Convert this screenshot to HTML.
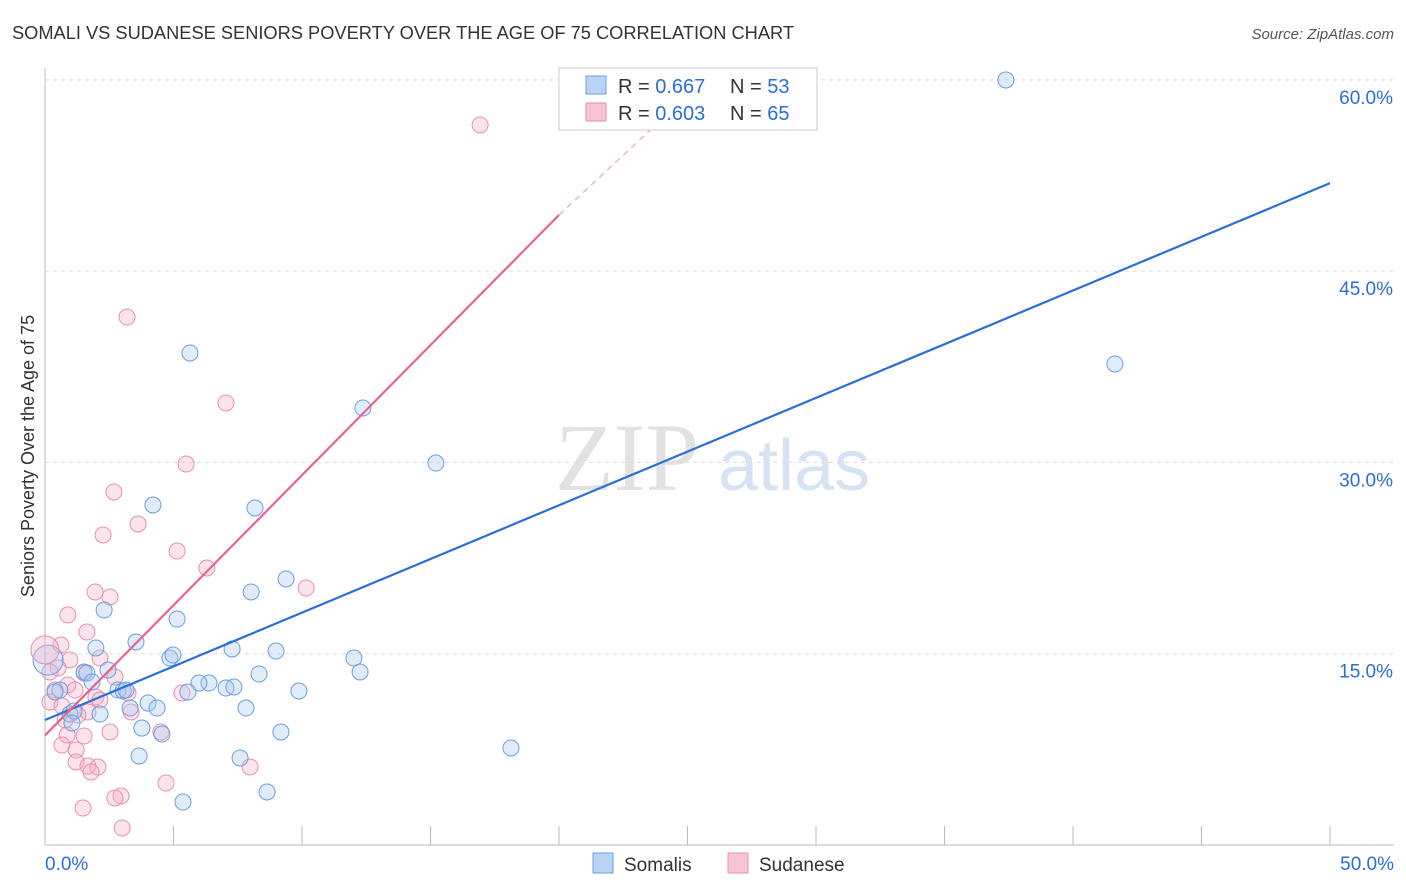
<!DOCTYPE html>
<html><head><meta charset="utf-8"><style>
body{margin:0;background:#fff;font-family:"Liberation Sans",sans-serif;}
svg{display:block}
</style></head><body>
<svg id="c" width="1406" height="892">
<text x="12" y="39" font-size="18" fill="#333" textLength="782" lengthAdjust="spacingAndGlyphs">SOMALI VS SUDANESE SENIORS POVERTY OVER THE AGE OF 75 CORRELATION CHART</text>
<text x="1394" y="39" font-size="15" fill="#555" font-style="italic" text-anchor="end">Source: ZipAtlas.com</text>
<text x="34" y="456" font-size="18" fill="#333" text-anchor="middle" transform="rotate(-90 34 456)">Seniors Poverty Over the Age of 75</text>
<text x="555" y="490" font-size="96" fill="#e2e2e2" font-family="Liberation Serif,serif">ZIP</text>
<text x="718" y="490" font-size="72" fill="#d6e3f4">atlas</text>
<g id="grid"></g><g id="pts"></g><g id="lines"></g>
<g>
<rect x="559" y="68" width="258" height="62" fill="#fff" stroke="#ccc"/>
<rect x="586" y="76" width="20" height="18" fill="#b8d3f5" stroke="#6a9fe0"/>
<rect x="586" y="103" width="20" height="18" fill="#f8c4d4" stroke="#e890b0"/>
<text x="618" y="93" font-size="20" fill="#333">R = <tspan fill="#2a6fd6">0.667</tspan><tspan x="730">N = </tspan><tspan fill="#2a6fd6">53</tspan></text>
<text x="618" y="120" font-size="20" fill="#333">R = <tspan fill="#2a6fd6">0.603</tspan><tspan x="730">N = </tspan><tspan fill="#2a6fd6">65</tspan></text>
</g>
<g>
<rect x="593" y="853" width="20" height="20" fill="#b8d3f5" stroke="#6a9fe0"/>
<text x="624" y="871" font-size="19" fill="#333">Somalis</text>
<rect x="728" y="853" width="20" height="20" fill="#f8c4d4" stroke="#e890b0"/>
<text x="759" y="871" font-size="19" fill="#333">Sudanese</text>
</g>
</svg>
<script>
const xTicks=[0,5,10,15,20,25,30,35,40,45,50];
const yTicks=[15,30,45,60];
const somaliX=[37.39,5.64,12.37,41.63,15.21,4.20,8.17,9.38,8.02,2.30,5.14,3.54,1.98,7.28,8.99,12.02,4.86,4.98,12.26,2.45,1.52,1.63,8.33,1.83,6.38,5.99,7.04,7.35,2.84,3.04,3.15,0.58,0.39,5.56,9.88,4.01,4.36,3.31,7.82,2.14,0.97,1.13,3.77,1.05,9.18,4.55,3.66,7.59,18.13,8.64,5.37];
const somaliY=[59.99,38.58,34.27,37.72,29.95,26.66,26.43,20.86,19.84,18.43,17.72,15.92,15.45,15.37,15.21,14.66,14.66,14.90,13.57,13.72,13.57,13.49,13.41,12.78,12.70,12.70,12.31,12.39,12.15,12.08,12.15,12.15,12.00,12.00,12.08,11.13,10.74,10.74,10.74,10.27,10.27,10.51,9.17,9.57,8.86,8.70,6.98,6.82,7.61,4.16,3.37];
const sudanX=[16.93,3.19,7.04,5.49,2.68,3.62,2.26,5.14,6.30,10.16,1.95,2.53,0.89,1.63,0.62,2.14,0.97,0.51,1.52,0.19,2.72,0.89,0.39,1.17,3.23,1.98,2.14,5.33,0.19,0.66,1.67,3.35,1.28,0.78,4.51,2.53,0.86,1.52,0.66,1.21,1.21,1.67,2.06,1.79,7.98,4.71,2.96,2.72,1.48,3.00];
const sudanY=[56.46,41.40,34.66,29.88,27.68,25.17,24.31,23.05,21.72,20.15,19.84,19.45,18.04,16.70,15.68,14.66,14.51,13.88,13.49,13.57,13.17,12.55,12.15,12.15,11.92,11.61,11.37,11.92,11.21,10.90,10.43,10.43,10.19,9.80,8.86,8.86,8.63,8.55,7.84,7.45,6.51,6.19,6.12,5.72,6.12,4.86,3.84,3.69,2.90,1.33];
const somaliTrend=[0,9.8,50,51.9];
const sudanTrend=[0,8.6,20,49.4,24,56.9];
const sx=v=>45+v*25.7, sy=v=>845-v*12.753;
const NS="http://www.w3.org/2000/svg";
function mk(t,a,p){const e=document.createElementNS(NS,t);for(const k in a)e.setAttribute(k,a[k]);p.appendChild(e);return e;}
const g=document.getElementById('grid');
const ax=mk('line',{x1:45,y1:845,x2:1394,y2:845,stroke:'#bbb'},g);


const ay=mk('line',{x1:45,y1:68,x2:45,y2:845,stroke:'#bbb'},g);


yTicks.forEach(v=>{const l=mk('line',{x1:45,y1:sy(v),x2:1394,y2:sy(v),stroke:'#ddd','stroke-dasharray':'4,4'},g);


const t=mk('text',{x:1393,y:sy(v)+24,'font-size':19,fill:'#2a6fd6','text-anchor':'end'},g);t.textContent=v.toFixed(1)+'%';

});
xTicks.forEach(v=>{const l=mk('line',{x1:sx(v),y1:826,x2:sx(v),y2:845,stroke:'#bbb'},g);

});
[[0,'start',45],[50,'end',1394]].forEach(([v,a,x])=>{const t=mk('text',{x:x,y:870,'font-size':19,fill:'#2a6fd6','text-anchor':a},g);t.textContent=v.toFixed(1)+'%';

});
const P=document.getElementById('pts');
function dots(X,Y,f,s,n){X.forEach((x,i)=>{const c=mk('circle',{cx:sx(x),cy:sy(Y[i]),r:8,fill:f,'fill-opacity':0.35,stroke:s,'stroke-width':1},P);

});}
dots(sudanX,sudanY,'#f5b0c8','#e890b0','sudanese-point');
dots(somaliX,somaliY,'#a8c8f0','#6a9fe0','somali-point');
const b1=mk('circle',{cx:sx(0.12),cy:sy(14.5),r:15,fill:'#a8c8f0','fill-opacity':0.35,stroke:'#6a9fe0'},P);


const b2=mk('circle',{cx:sx(0),cy:sy(15.3),r:14,fill:'#f5b0c8','fill-opacity':0.35,stroke:'#e890b0'},P);


const L=document.getElementById('lines');
const tl=mk('line',{x1:sx(somaliTrend[0]),y1:sy(somaliTrend[1]),x2:sx(somaliTrend[2]),y2:sy(somaliTrend[3]),stroke:'#2a6fd6','stroke-width':2.2},L);


const pl=mk('line',{x1:sx(sudanTrend[0]),y1:sy(sudanTrend[1]),x2:sx(sudanTrend[2]),y2:sy(sudanTrend[3]),stroke:'#e8648c','stroke-width':2.2},L);


const pd=mk('line',{x1:sx(sudanTrend[2]),y1:sy(sudanTrend[3]),x2:sx(sudanTrend[4]),y2:sy(sudanTrend[5]),stroke:'#f0a0b8','stroke-width':1.2,'stroke-dasharray':'6,5'},L);


</script>
</body></html>
